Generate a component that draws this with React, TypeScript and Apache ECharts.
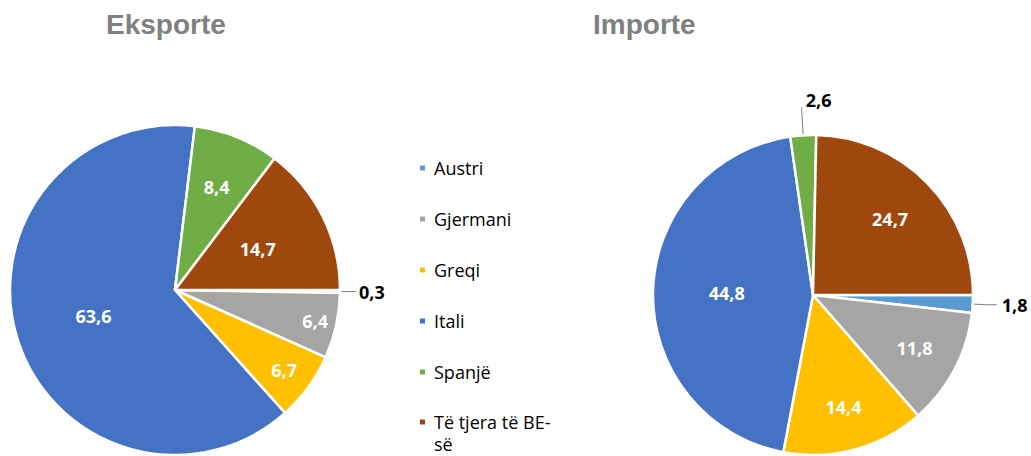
import React, { useEffect, useRef } from 'react';
import * as echarts from 'echarts';

const categories = ['Austri', 'Gjermani', 'Greqi', 'Itali', 'Spanjë', 'Të tjera të BE-së'];
const exportValues = [0.3, 6.4, 6.7, 63.6, 8.4, 14.7];
const importValues = [1.8, 11.8, 14.4, 44.8, 2.6, 24.7];
const titles = ['Eksporte', 'Importe'];
const colors = ['#5B9BD5', '#A5A5A5', '#FFC000', '#4472C4', '#70AD47', '#9E480E'];

// Style: radial position of inside labels (fraction of radius); null = outside label
const exportLabelRadius = [null, 0.84, 0.79, 0.5, 0.65, 0.54];
const importLabelRadius = [null, 0.69, 0.7, 0.52, null, 0.65];

const PIES = [
  { center: [175, 290], r: 165 },
  { center: [813, 295], r: 160 },
];

const fmt = (v: number) => v.toFixed(1).replace('.', ',');
const FONT = 'Open Sans';

function buildData(values: number[], radii: (number | null)[], outside: Record<number, any>) {
  return categories.map((name, i) => {
    const item: any = { name, value: values[i], itemStyle: { color: colors[i] } };
    if (radii[i] == null) {
      const o = outside[i] || {};
      item.label = {
        position: 'outside',
        color: '#000',
        distanceToLabelLine: o.dist ?? 5,
      };
      item.labelLine = {
        show: true,
        length: o.length,
        length2: o.length2,
        lineStyle: { color: '#7f7f7f', width: 1 },
      };
    }
    return item;
  });
}

function makeLayout(radii: (number | null)[], pie: { center: number[]; r: number }, shifts: Record<number, any>) {
  return (p: any) => {
    const i = p.dataIndex;
    const frac = radii[i];
    if (frac == null) return shifts[i] || {};
    const lx = p.labelRect.x + p.labelRect.width / 2;
    const ly = p.labelRect.y + p.labelRect.height / 2;
    const k = frac / 0.5 - 1;
    return { dx: (lx - pie.center[0]) * k, dy: (ly - pie.center[1]) * k };
  };
}

export default function App() {
  const ref = useRef<HTMLDivElement>(null);
  useEffect(() => {
    document.body.style.margin = '0';
    const chart = echarts.init(ref.current!, null, { renderer: 'svg' });
    const seriesBase = {
      type: 'pie',
      startAngle: 0,
      clockwise: true,
      avoidLabelOverlap: false,
      itemStyle: { borderColor: '#fff', borderWidth: 2.5 },
      label: {
        show: true,
        position: 'inside',
        color: '#fff',
        fontWeight: 'bold',
        fontSize: 18,
        fontFamily: FONT,
        formatter: (p: any) => fmt(p.value),
      },
      labelLine: { show: false },
      emphasis: { disabled: true },
    };
    chart.setOption({
      animation: false,
      title: [
        {
          text: titles[0], left: 106, top: 10, padding: 0,
          textStyle: { fontFamily: 'Liberation Sans', fontWeight: 'bold', fontSize: 28, color: '#808080' },
        },
        {
          text: titles[1], left: 593, top: 10, padding: 0,
          textStyle: { fontFamily: 'Liberation Sans', fontWeight: 'bold', fontSize: 28, color: '#808080' },
        },
      ],
      legend: [
        {
          orient: 'vertical', left: 418, top: 156, padding: 0,
          itemWidth: 7, itemHeight: 7, itemGap: 27, icon: 'rect', selectedMode: false,
          data: categories.slice(0, 5),
          textStyle: { fontFamily: FONT, fontSize: 18, color: '#000', lineHeight: 24, padding: [0, 0, 0, 3] },
        },
        {
          orient: 'vertical', left: 418, top: 389, padding: 0,
          itemWidth: 7, itemHeight: 7, icon: 'rect', selectedMode: false,
          data: categories.slice(5),
          formatter: (n: string) => '\u00a0\n' + n.replace('BE-', 'BE-\n'),
          textStyle: { fontFamily: FONT, fontSize: 18, color: '#000', lineHeight: 22, padding: [0, 0, 0, 3] },
        },
      ],
      series: [
        {
          ...seriesBase,
          name: titles[0],
          center: PIES[0].center,
          radius: PIES[0].r,
          data: buildData(exportValues, exportLabelRadius, { 0: { length: 6, length2: 10, dist: 3 } }),
          labelLayout: makeLayout(exportLabelRadius, PIES[0], {}),
        },
        {
          ...seriesBase,
          name: titles[1],
          center: PIES[1].center,
          radius: PIES[1].r,
          data: buildData(importValues, importLabelRadius, {
            0: { length: 12, length2: 12, dist: 5 },
            4: { length: 28, length2: 0, dist: 5 },
          }),
          labelLayout: makeLayout(importLabelRadius, PIES[1], { 4: { dx: 35, dy: -7 } }),
        },
      ],
    });
    return () => chart.dispose();
  }, []);
  return <div ref={ref} style={{ width: 1031, height: 456 }} />;
}
